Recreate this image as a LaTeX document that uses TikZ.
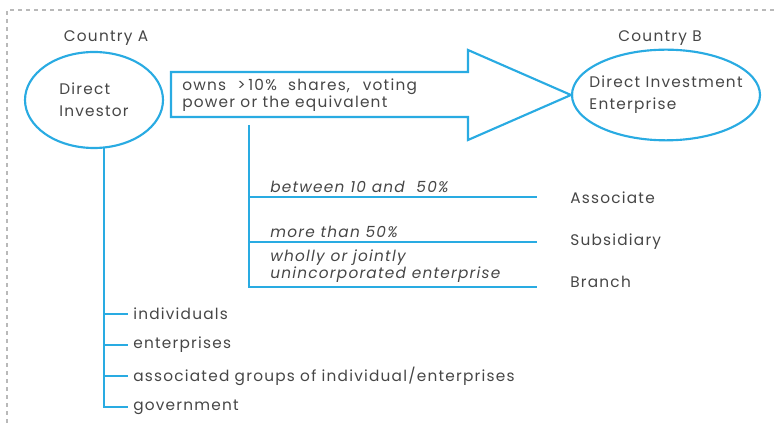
\documentclass[tikz,border=0pt]{standalone}
\usepackage{fontspec}
\setmainfont{Poppins}[LetterSpace=8]
\usepackage{tikz}
\usetikzlibrary{positioning}
\usetikzlibrary{shapes.geometric}
\definecolor{linkblue}{RGB}{41,171,226}
\definecolor{txtgray}{RGB}{70,70,70}
\tikzset{
  blob/.style={ellipse, draw=linkblue, line width=1.6pt, inner sep=0pt},
  bar/.style={draw=linkblue, line width=1.6pt},
  lbl/.style={anchor=west, inner sep=0pt, text=txtgray},
  rate/.style={lbl, font=\fontsize{11.5}{11.3}\selectfont\itshape, align=left},
}

\begin{document}
\begin{tikzpicture}[x=0.75pt, y=-0.75pt, font=\fontsize{11.5}{13}\selectfont, text=txtgray]

\useasboundingbox (0,0) rectangle (778,423);

% Dashed frame
\draw[dashed, gray!55, line width=0.8pt] (7,423) -- (7,10) -- (778,10);

% Countries
\node (cA) at (106,38) {Country A};
\node (cB) at (660,38) {Country B};

% Investor and enterprise
\node[blob, minimum width=103.5pt, minimum height=72pt] (inv) at (94,100) {};
\node[blob, minimum width=141pt, minimum height=68pt] (ent) at (666,95) {};
\node[align=left, font=\fontsize{11.5}{16.5}\selectfont] (invtxt) at (inv) {Direct\\Investor};
\node[align=left, font=\fontsize{11.5}{16.5}\selectfont] (enttxt) at (ent) {Direct Investment\\Enterprise};

% Big arrow
\coordinate (tip) at (ent.west);
\draw[bar, line join=miter] (171,72) -- (468,72) -- (468,50) -- (tip)
  -- (468,140) -- (468,117) -- (171,117) -- cycle;
\node[lbl, align=left] (owns) at (182,95)
  {\makebox[176pt][s]{owns >\,10\% shares, voting}\\power or the equivalent};

% Ownership levels
\coordinate (s0) at (249,125);
\coordinate (e1) at (537,197);
\coordinate (e2) at (537,242);
\coordinate (e3) at (537,287);
\draw[bar] (s0) |- (e3);
\draw[bar] (s0 |- e1) -- (e1);
\draw[bar] (s0 |- e2) -- (e2);

\node[rate, anchor=south west] (r1) at (270,193) {between 10 and\ \ 50\%};
\node[rate, anchor=south west] (r2) at (270,238) {more than 50\%};
\node[rate, anchor=south west] (r3) at (270,283) {wholly or jointly\\unincorporated enterprise};

\node[lbl] (asc) at (570,198) {Associate};
\node[lbl] (sub) at (570,242) {Subsidiary};
\node[lbl] (brn) at (570,282) {Branch};

% Kinds of investor
\coordinate (t0) at (104,147);
\node[lbl] (ind) at (133,314) {individuals};
\node[lbl] (ent2) at (133,345) {enterprises};
\node[lbl] (grp) at (133,376) {associated groups of individual/enterprises};
\node[lbl] (gov) at (133,407) {government};

\draw[bar] (t0) |- ([xshift=-4pt]gov.west);
\foreach \k in {ind, ent2, grp}
  \draw[bar] (t0 |- \k.west) -- ([xshift=-4pt]\k.west);

\end{tikzpicture}
\end{document}
